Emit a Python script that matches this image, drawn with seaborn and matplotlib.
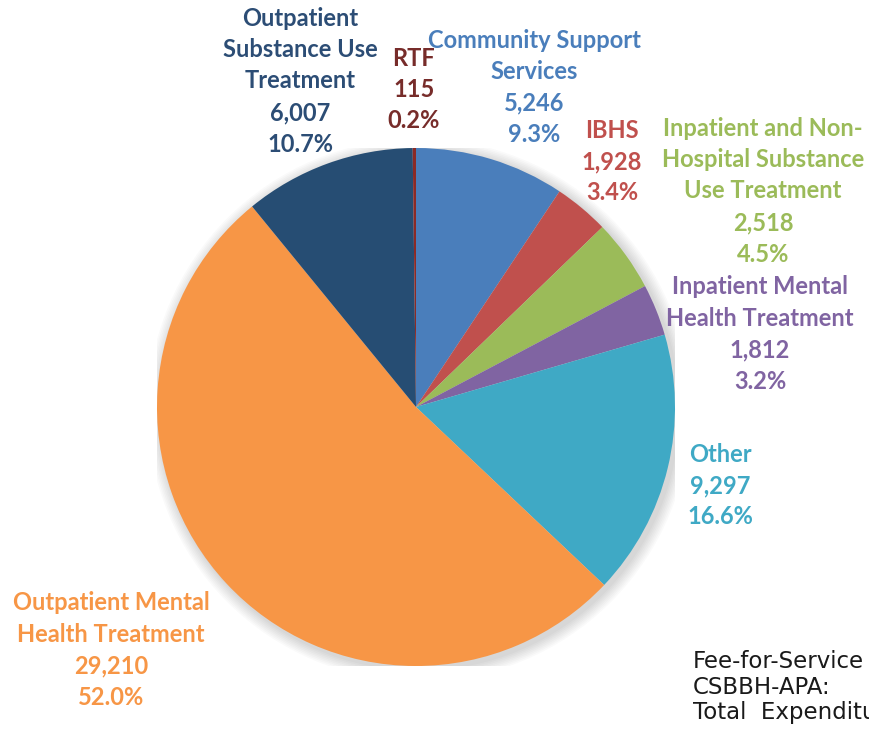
import matplotlib
matplotlib.use("Agg")
import matplotlib.pyplot as plt
from matplotlib.patches import Circle
import seaborn as sns

# Data (clockwise from 12 o'clock)
categories = ["Community Support\nServices", "IBHS",
              "Inpatient and Non-\nHospital Substance\nUse Treatment",
              "Inpatient Mental\nHealth Treatment", "Other",
              "Outpatient Mental\nHealth Treatment",
              "Outpatient\nSubstance Use\nTreatment", "RTF"]
amounts = [5246, 1928, 2518, 1812, 9297, 29210, 6007, 115]
slice_colors = ["#4A7EBB", "#C0504D", "#9BBB59", "#8064A2",
                "#3FA9C5", "#F79646", "#264D73", "#8B2A26"]
label_colors = ["#4A7EBB", "#C0504D", "#9BBB59", "#8064A2",
                "#3FA9C5", "#F79646", "#2C4D75", "#772C2A"]
# first-line centre of each label, pixels of the original image
label_px = [(534, 40), (612, 130), (763, 128), (760, 287),
            (720, 454), (111, 603), (300, 18), (414, 58)]
note_lines = ["Fee-for-Service", "CSBBH-APA:", "Total  Expenditures"]

sns.set_theme(style="white")
plt.rcParams["font.family"] = ["Lato", "DejaVu Sans"]

fig = plt.figure(figsize=(8.69, 7.31), dpi=100)
cx, cy, r = 416, 407, 259
ax = fig.add_axes([(cx - r) / 869, 1 - (cy + r) / 731, 2 * r / 869, 2 * r / 731])

# soft shadow behind the pie
for k in range(8):
    ax.add_patch(Circle((0.012, -0.012), 1 + 0.006 * (8 - k), color="black",
                        alpha=0.018, lw=0, zorder=0))

total = sum(amounts)
ax.pie(amounts, colors=slice_colors, startangle=90, counterclock=False,
       radius=1, wedgeprops=dict(linewidth=0, zorder=2))
ax.set_xlim(-1, 1)
ax.set_ylim(-1, 1)
ax.set_aspect("equal")
ax.axis("off")

pitch = 31.5
for name, val, col, (px, py) in zip(categories, amounts, label_colors, label_px):
    lines = name.split("\n") + [f"{val:,}", f"{val / total * 100:.1f}%"]
    for i, line in enumerate(lines):
        ax.text((px - cx) / r, (cy - (py + i * pitch)) / r, line, color=col,
                fontsize=17, fontweight="bold", ha="center", va="center",
                clip_on=False)

for i, line in enumerate(note_lines):
    fig.text(693 / 869, 1 - (661 + i * 26) / 731, line, fontsize=16.5,
             family="DejaVu Sans", color="#1a1a1a", ha="left", va="center")

fig.savefig("out.png", dpi=100)
